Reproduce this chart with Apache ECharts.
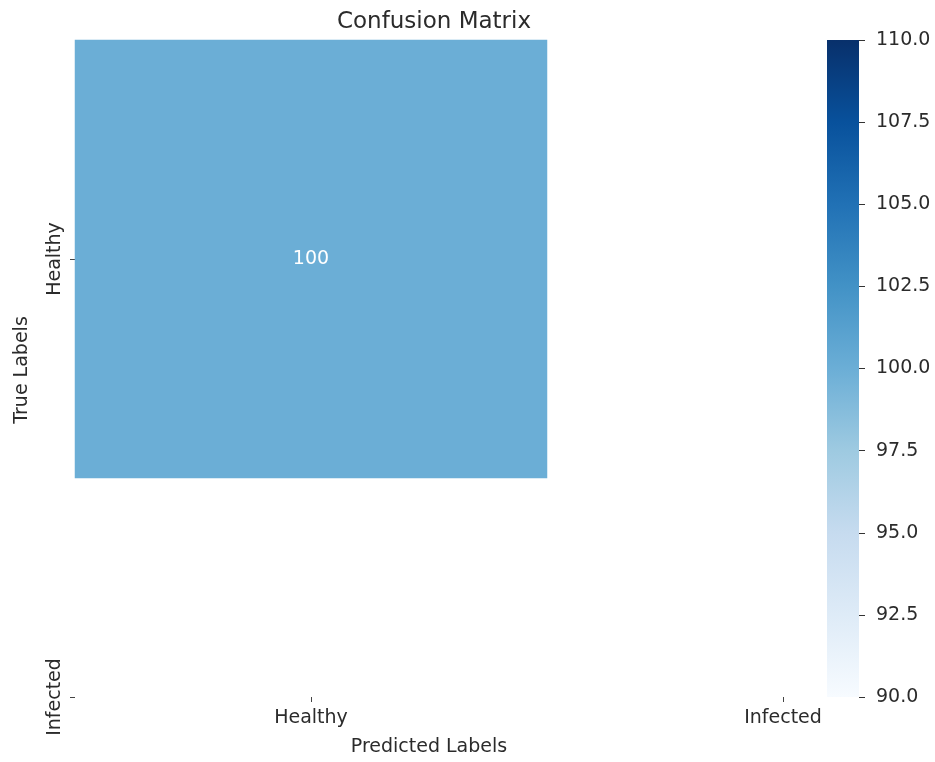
<!DOCTYPE html>
<html>
<head>
<meta charset="utf-8">
<script src="https://cdn.jsdelivr.net/npm/echarts@6/dist/echarts.min.js"></script>
<style>
  html, body { margin: 0; padding: 0; background: #fff; }
  #chart { width: 935px; height: 762px; }
</style>
</head>
<body>
<div id="chart"></div>
<script>
// Class labels for the two axes
const predictedLabels = ['Healthy', 'Infected'];
const trueLabels = ['Healthy', 'Infected'];
// Confusion counts: rows = true label, columns = predicted label
const counts = [[100]];
// Colour scale range and colorbar tick step
const colorMin = 90;
const colorMax = 110;
const colorStep = 2.5;

// Matplotlib "Blues" colour map stops
const blues = ['#f7fbff', '#deebf7', '#c6dbef', '#9ecae1', '#6baed6', '#4292c6', '#2171b5', '#08519c', '#08306b'];

const cells = [];
counts.forEach((row, r) => row.forEach((v, c) => cells.push([c, r, v])));

const FONT = 'DejaVu Sans';
const LABEL_SIZE = 19;
const TEXT_COLOR = '#2b2b2b';

// Colorbar geometry
const CB = { x: 827, y: 40, w: 32, h: 657 };

const chart = echarts.init(document.getElementById('chart'), null, { renderer: 'canvas' });

chart.setOption({
  backgroundColor: '#ffffff',
  animation: false,
  textStyle: { fontFamily: FONT },
  title: {
    text: 'Confusion Matrix',
    left: 429, top: 6, textAlign: 'center',
    textStyle: { fontFamily: FONT, fontSize: 23, fontWeight: 'normal', color: TEXT_COLOR }
  },
  grid: [
    { left: 75, top: 40, width: 944, height: 876, outerBoundsMode: 'none', containLabel: false },
    // scale grid for the colorbar: its left edge sits on the bar's right edge
    { left: CB.x + CB.w, top: CB.y, width: 60, height: CB.h, outerBoundsMode: 'none', containLabel: false }
  ],
  xAxis: [
    {
      type: 'category', gridIndex: 0, data: predictedLabels, position: 'bottom', offset: -219,
      axisLine: { show: false },
      axisTick: { show: true, alignWithLabel: true, length: 5, lineStyle: { color: '#444' } },
      axisLabel: { fontFamily: FONT, fontSize: LABEL_SIZE, color: TEXT_COLOR, margin: 12 },
      splitLine: { show: false }
    },
    { type: 'value', gridIndex: 1, show: false }
  ],
  yAxis: [
    {
      type: 'category', gridIndex: 0, data: trueLabels, inverse: true,
      axisLine: { show: false },
      axisTick: { show: true, alignWithLabel: true, length: 5, lineStyle: { color: '#444' } },
      axisLabel: { fontFamily: FONT, fontSize: LABEL_SIZE, color: TEXT_COLOR, rotate: 90, margin: 10 },
      splitLine: { show: false }
    },
    {
      type: 'value', gridIndex: 1, position: 'left', min: colorMin, max: colorMax, interval: colorStep,
      axisLine: { show: false },
      axisTick: { show: true, inside: true, length: 6, lineStyle: { color: '#333', width: 1 } },
      axisLabel: { inside: true, fontFamily: FONT, fontSize: LABEL_SIZE, color: TEXT_COLOR, margin: 17, formatter: v => v.toFixed(1) },
      splitLine: { show: false }
    }
  ],
  visualMap: {
    type: 'continuous', show: false, seriesIndex: 0, min: colorMin, max: colorMax,
    inRange: { color: blues }
  },
  graphic: [
    {
      // colorbar strip, same colour ramp as the visualMap
      type: 'rect', z: -10, silent: true,
      shape: { x: CB.x, y: CB.y, width: CB.w, height: CB.h },
      style: {
        fill: new echarts.graphic.LinearGradient(0, 1, 0, 0,
          blues.map((c, i) => ({ offset: i / (blues.length - 1), color: c })))
      }
    },
    {
      type: 'text', x: 429, y: 747,
      style: { text: 'Predicted Labels', font: LABEL_SIZE + 'px "DejaVu Sans"', fill: TEXT_COLOR, align: 'center', verticalAlign: 'middle' }
    },
    {
      type: 'text', x: 22, y: 370, rotation: Math.PI / 2,
      style: { text: 'True Labels', font: LABEL_SIZE + 'px "DejaVu Sans"', fill: TEXT_COLOR, align: 'center', verticalAlign: 'middle' }
    }
  ],
  series: [{
    type: 'heatmap', xAxisIndex: 0, yAxisIndex: 0, data: cells,
    label: { show: true, color: '#fff', fontFamily: FONT, fontSize: LABEL_SIZE },
    itemStyle: { borderWidth: 0 },
    emphasis: { disabled: true }
  }]
});
</script>
</body>
</html>
